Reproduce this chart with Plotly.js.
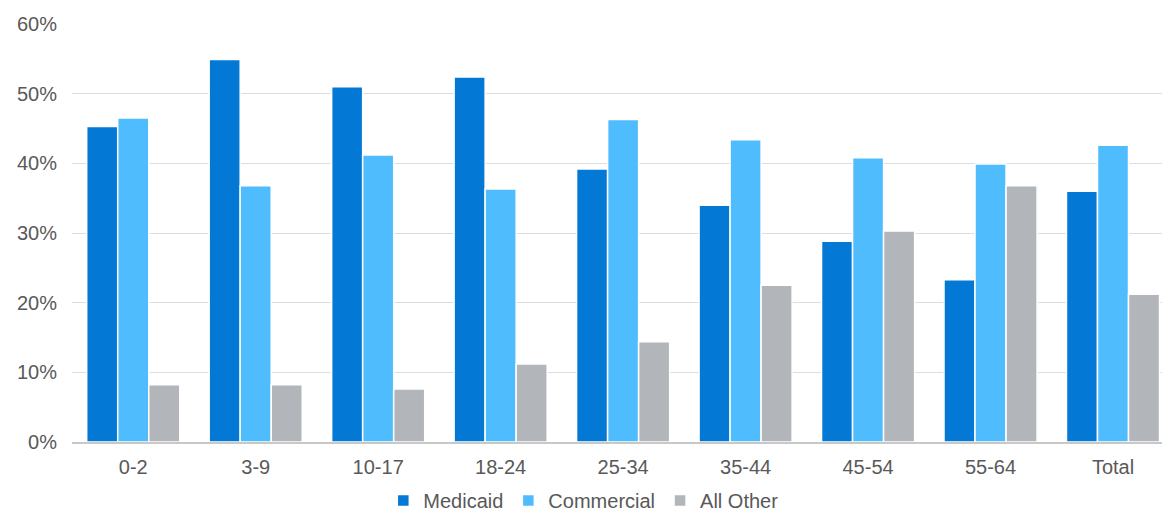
<!DOCTYPE html>
<html>
<head>
<meta charset="utf-8">
<script src="https://cdn.plot.ly/plotly-3.0.1.min.js"></script>
<style>html,body{margin:0;padding:0;background:#fff;}#chart{width:1162px;height:516px;}</style>
</head>
<body>
<div id="chart"></div>
<script>
const categories = ["0-2", "3-9", "10-17", "18-24", "25-34", "35-44", "45-54", "55-64", "Total"];
const medicaid   = [45.3, 54.9, 51.0, 52.4, 39.2, 34.0, 28.8, 23.3, 36.0];
const commercial = [46.5, 36.8, 41.2, 36.3, 46.3, 43.4, 40.8, 39.9, 42.6];
const allOther   = [8.2, 8.2, 7.6, 11.2, 14.4, 22.5, 30.3, 36.8, 21.2];
const yTicks = [0, 10, 20, 30, 40, 50, 60];
const yTickText = ["0%", "10%", "20%", "30%", "40%", "50%", "60%"];

const font = {family: "Liberation Sans, Arial, sans-serif", size: 20, color: "#595959"};
function mk(name, y, color) {
  return {type: "bar", name: name, x: categories, y: y,
    marker: {color: color, line: {color: "#ffffff", width: 1.5}},
    hoverinfo: "skip"};
}
const data = [
  mk("Medicaid", medicaid, "#0379D5"),
  mk("Commercial", commercial, "#4FBCFE"),
  mk("All Other", allOther, "#B2B5B9")
];
const layout = {
  width: 1162, height: 516,
  margin: {l: 72, r: 0, t: 24, b: 74, pad: 0, autoexpand: false},
  paper_bgcolor: "#ffffff", plot_bgcolor: "#ffffff",
  font: font,
  barmode: "group", bargap: 0.24, bargroupgap: 0,
  showlegend: true,
  legend: {orientation: "h", xref: "container", yref: "container",
    x: 0.502, xanchor: "center", y: 0.03, yanchor: "middle",
    font: font, itemclick: false, traceorder: "normal", itemwidth: 30,
    entrywidth: 0, tracegroupgap: 0},
  xaxis: {type: "category", range: [-0.5, 8.4], showgrid: false, zeroline: false,
    showline: true, linecolor: "#C8C8C8", linewidth: 1.5, automargin: false,
    ticks: "", ticklabelstandoff: 6, tickfont: font, fixedrange: true},
  yaxis: {range: [0, 60], tickvals: yTicks, ticktext: yTickText, automargin: false,
    showgrid: true, gridcolor: "#DDDDDD", gridwidth: 1,
    zeroline: false, showline: false, ticks: "", ticklabelstandoff: 14,
    tickfont: font, fixedrange: true}
};
Plotly.newPlot("chart", data, layout, {displayModeBar: false, staticPlot: true});
</script>
</body>
</html>
